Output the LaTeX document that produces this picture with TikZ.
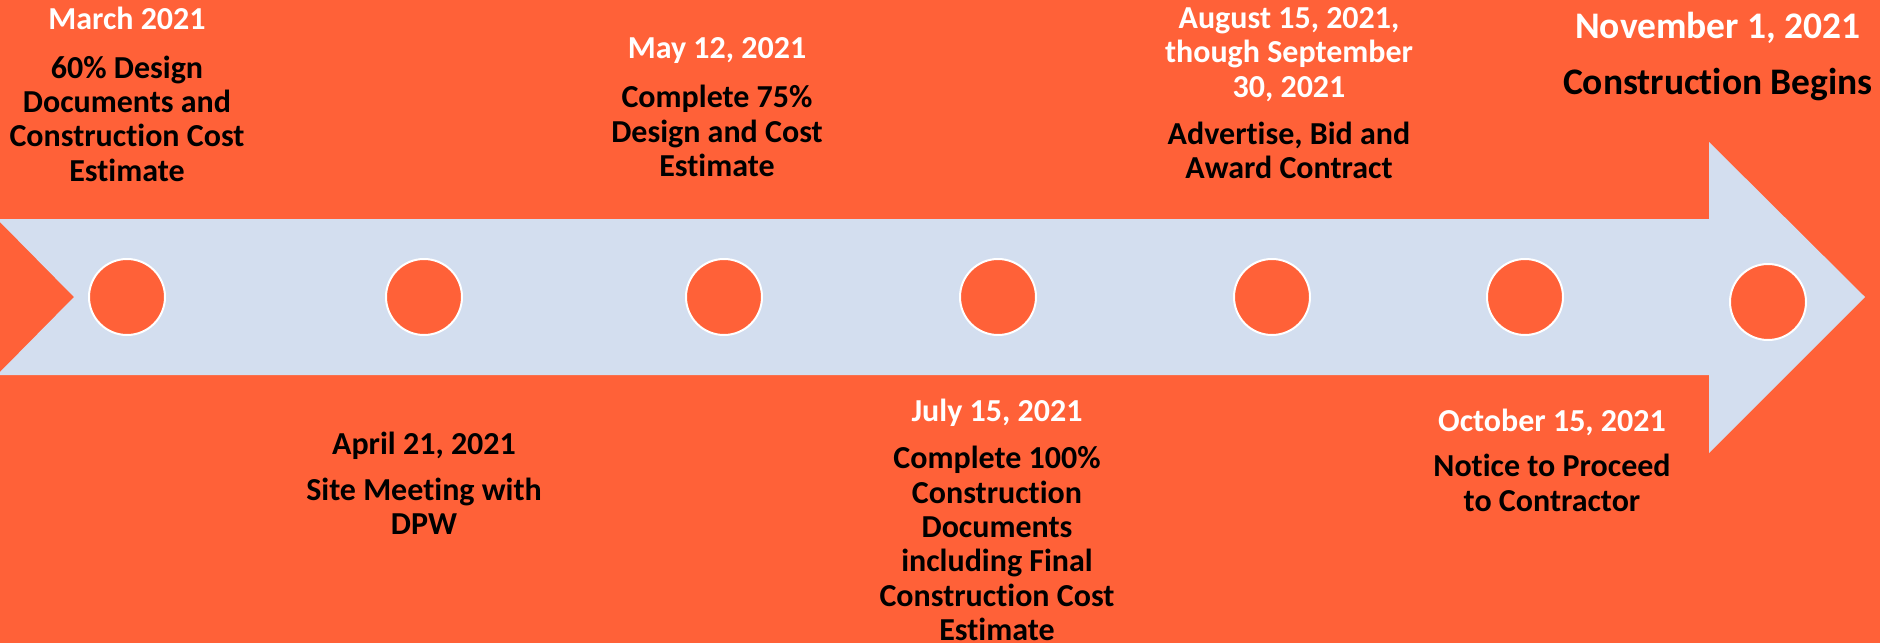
\documentclass[tikz,border=0pt]{standalone}
\usepackage{fontspec}
\setmainfont{Carlito}[Ligatures=NoCommon]
\definecolor{bgor}{RGB}{255,97,56}
\definecolor{arrowblue}{RGB}{211,222,239}
\newcommand{\lstrut}{\rule[-10pt]{0pt}{34.4pt}}
\begin{document}
\begin{tikzpicture}[x=1pt,y=-1pt,
  txt/.style={font=\fontsize{32}{34.4}\selectfont\bfseries, align=center, inner sep=0pt, text=black},
  datew/.style={txt, text=white},
  bigtxt/.style={font=\fontsize{37.5}{40}\selectfont\bfseries, inner sep=0pt, anchor=base},
  dot/.style={circle, fill=bgor, draw=white, line width=2pt, minimum size=76pt, inner sep=0pt}]
\fill[bgor] (0,0) rectangle (1880,643);
\useasboundingbox (0,0) rectangle (1880,643);
\fill[arrowblue] (0,219) -- (1709,219) -- (1709,142) -- (1865,297) -- (1709,453) -- (1709,375) -- (0,375) -- (0,372) -- (74,297) -- (0,222) -- cycle;
% milestones
\node[dot] (c1) at (127,297) {};
\node[dot] (c2) at (424,297) {};
\node[dot] (c3) at (724,297) {};
\node[dot] (c4) at (998,297) {};
\node[dot] (c5) at (1272,297) {};
\node[dot] (c6) at (1525,297) {};
\node[dot] (c7) at (1768,302) {};
% texts
\node[datew] (d1) at (127,21.9) {\lstrut March 2021};
\node[txt] (t1) at (127,122.4) {\lstrut 60\% Design\\\lstrut Documents and\\\lstrut Construction Cost\\\lstrut Estimate};
\node[datew] (d2) at (717,50.9) {\lstrut May 12, 2021};
\node[txt] (t2) at (717,134.9) {\lstrut Complete 75\%\\\lstrut Design and Cost\\\lstrut Estimate};
\node[datew] (d3) at (1289,55.4) {\lstrut August 15, 2021,\\\lstrut though September\\\lstrut 30, 2021};
\node[txt] (t3) at (1289,154.4) {\lstrut Advertise, Bid and\\\lstrut Award Contract};
\node[bigtxt, text=white] (d4) at (1718,38.5) {November 1, 2021};
\node[bigtxt, text=black] (t4) at (1718,94.9) {Construction Begins};
\node[txt] (d5) at (424,446.9) {\lstrut April 21, 2021};
\node[txt] (t5) at (424,510.4) {\lstrut Site Meeting with\\\lstrut DPW};
\node[datew] (d6) at (997,413.9) {\lstrut July 15, 2021};
\node[txt] (t6) at (997,547.4) {\lstrut Complete 100\%\\\lstrut Construction\\\lstrut Documents\\\lstrut including Final\\\lstrut Construction Cost\\\lstrut Estimate};
\node[datew] (d7) at (1552,423.9) {\lstrut October 15, 2021};
\node[txt] (t7) at (1552,486.9) {\lstrut Notice to Proceed\\\lstrut to Contractor};
\end{tikzpicture}
\end{document}
